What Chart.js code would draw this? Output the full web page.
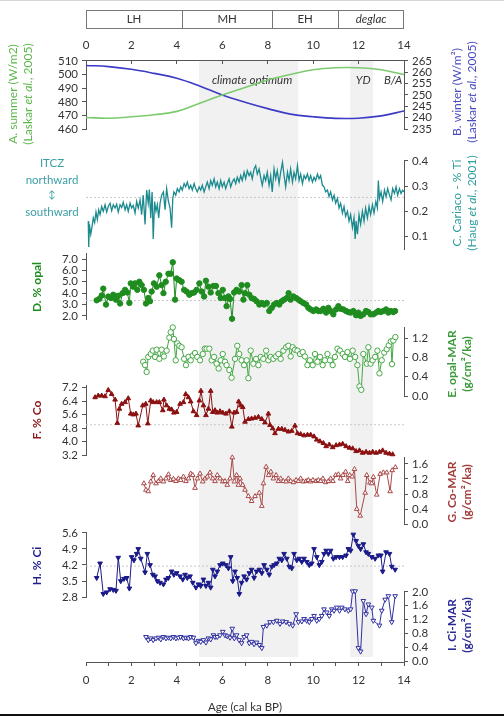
<!DOCTYPE html>
<html>
<head>
<meta charset="utf-8">
<script src="https://cdn.jsdelivr.net/npm/chart.js@4.4.1/dist/chart.umd.min.js"></script>
<style>
  html, body { margin: 0; padding: 0; background: #fff; }
  #stage { position: relative; width: 504px; height: 716px; overflow: hidden; background: #fff; }
  #stage canvas { position: absolute; left: 0; }
  #stage .edge-top { position: absolute; left: 0; right: 0; top: 0; height: 1px; background: #d6d6d6; }
  #stage .edge-bottom { position: absolute; left: 0; right: 0; bottom: 0; height: 2px; background: #111; }
</style>
</head>
<body>
<div id="stage"><div class="edge-top"></div><div class="edge-bottom"></div></div>
<script>
// ---------------- data (age in cal ka BP) ----------------
const periodNames  = ['LH', 'MH', 'EH', 'deglac'];
const periodBounds = [0, 4.23, 8.2, 11.1, 14];
const shadedSpans  = [[4.98, 9.34], [11.63, 12.64]];

const ageTicksTop    = [0, 2, 4, 6, 8, 10, 12, 14];
const ageTicksBottom = [0, 1, 2, 3, 4, 5, 6, 7, 8, 9, 10, 11, 12, 13, 14];

// A. 20°N summer insolation (W/m2) and B. winter insolation
const summerInsol = [[0,468.5],[1,468],[2,469],[3,470.5],[4,473],[5,479],[6,485],[7,490.5],[8,496],[9,500],[10,503.5],[11,505],[12,505],[13,503.5],[14,500]];
const winterInsol = [[0,263],[1,262.5],[2,261.3],[3,259.5],[4,257.4],[5,254],[6,250],[7,246.8],[8,244],[9,241.6],[10,240.4],[11,239.7],[12,239.8],[13,240.8],[14,243]];
const summerTicks = [460, 470, 480, 490, 500, 510];
const winterTicks = [235, 240, 245, 250, 255, 260, 265];

// C. Cariaco Basin % Ti
const cariacoTi = [[0.10,0.161],[0.12,0.058],[0.15,0.148],[0.21,0.109],[0.26,0.135],[0.32,0.174],[0.38,0.155],[0.44,0.197],[0.50,0.167],[0.56,0.206],[0.62,0.187],[0.69,0.219],[0.76,0.200],[0.84,0.226],[0.91,0.197],[0.98,0.219],[1.06,0.232],[1.13,0.202],[1.20,0.226],[1.28,0.213],[1.35,0.228],[1.42,0.197],[1.50,0.226],[1.57,0.215],[1.64,0.236],[1.72,0.206],[1.79,0.226],[1.86,0.200],[1.94,0.232],[2.01,0.213],[2.08,0.223],[2.16,0.193],[2.23,0.239],[2.30,0.213],[2.38,0.245],[2.45,0.187],[2.52,0.264],[2.60,0.148],[2.67,0.284],[2.74,0.232],[2.79,0.286],[2.85,0.174],[2.91,0.277],[2.96,0.090],[3.02,0.239],[3.08,0.200],[3.14,0.226],[3.20,0.174],[3.26,0.232],[3.33,0.264],[3.41,0.277],[3.48,0.206],[3.55,0.290],[3.63,0.239],[3.70,0.213],[3.77,0.135],[3.82,0.251],[3.87,0.277],[3.95,0.264],[4.02,0.290],[4.10,0.277],[4.17,0.297],[4.24,0.284],[4.32,0.310],[4.39,0.297],[4.46,0.316],[4.54,0.290],[4.61,0.303],[4.68,0.284],[4.76,0.310],[4.83,0.290],[4.90,0.277],[4.98,0.297],[5.05,0.284],[5.12,0.303],[5.20,0.277],[5.27,0.297],[5.34,0.316],[5.42,0.290],[5.49,0.322],[5.56,0.303],[5.64,0.329],[5.71,0.297],[5.78,0.316],[5.86,0.290],[5.93,0.322],[6.00,0.297],[6.08,0.316],[6.15,0.290],[6.22,0.310],[6.30,0.329],[6.37,0.297],[6.44,0.316],[6.52,0.329],[6.59,0.310],[6.66,0.335],[6.74,0.316],[6.81,0.342],[6.88,0.322],[6.96,0.355],[7.03,0.329],[7.10,0.361],[7.18,0.342],[7.25,0.355],[7.32,0.329],[7.40,0.368],[7.47,0.381],[7.54,0.348],[7.62,0.368],[7.69,0.335],[7.76,0.303],[7.84,0.342],[7.91,0.322],[7.98,0.355],[8.06,0.303],[8.13,0.342],[8.20,0.277],[8.28,0.368],[8.35,0.329],[8.42,0.361],[8.50,0.310],[8.57,0.355],[8.65,0.394],[8.72,0.342],[8.79,0.297],[8.87,0.355],[8.94,0.322],[9.01,0.368],[9.09,0.316],[9.16,0.355],[9.23,0.329],[9.31,0.381],[9.38,0.322],[9.45,0.348],[9.53,0.310],[9.60,0.342],[9.67,0.329],[9.75,0.348],[9.82,0.322],[9.89,0.342],[9.97,0.316],[10.04,0.335],[10.11,0.322],[10.19,0.348],[10.26,0.329],[10.33,0.342],[10.41,0.303],[10.48,0.297],[10.55,0.277],[10.63,0.284],[10.70,0.258],[10.77,0.277],[10.85,0.245],[10.92,0.264],[10.99,0.232],[11.07,0.251],[11.14,0.213],[11.21,0.232],[11.29,0.193],[11.36,0.219],[11.43,0.180],[11.51,0.200],[11.58,0.161],[11.65,0.187],[11.73,0.135],[11.80,0.174],[11.85,0.090],[11.89,0.161],[11.95,0.109],[12.02,0.187],[12.09,0.148],[12.17,0.200],[12.24,0.161],[12.31,0.213],[12.39,0.174],[12.46,0.219],[12.53,0.187],[12.61,0.226],[12.68,0.193],[12.76,0.239],[12.83,0.213],[12.87,0.322],[12.92,0.251],[12.99,0.277],[13.06,0.239],[13.14,0.284],[13.21,0.258],[13.28,0.290],[13.36,0.264],[13.43,0.245],[13.50,0.290],[13.58,0.271],[13.65,0.297],[13.72,0.264],[13.80,0.290],[13.87,0.271],[13.94,0.284],[14.00,0.277]];
const tiTicks = [0.1, 0.2, 0.3, 0.4];
const tiMean = 0.255;

// D. % opal
const opalPct = [[0.47,3.37],[0.59,3.5],[0.69,3.8],[0.76,4.4],[0.88,3.0],[0.98,3.7],[1.10,3.57],[1.20,3.86],[1.32,3.43],[1.42,3.77],[1.50,3.09],[1.61,4.0],[1.72,4.29],[1.82,4.06],[1.91,3.14],[1.97,4.86],[2.08,4.57],[2.16,4.86],[2.26,4.29],[2.35,5.0],[2.45,4.71],[2.55,4.29],[2.64,3.09],[2.74,3.57],[2.82,3.29],[2.89,4.14],[2.99,4.86],[3.11,4.57],[3.23,5.57],[3.33,4.71],[3.41,4.0],[3.51,5.0],[3.63,5.71],[3.73,5.71],[3.82,6.71],[3.92,3.43],[3.99,5.29],[4.11,5.14],[4.21,5.0],[4.32,4.29],[4.43,4.14],[4.55,3.86],[4.65,4.0],[4.76,4.06],[4.87,4.29],[4.99,4.86],[5.09,4.14],[5.20,3.71],[5.28,5.09],[5.39,4.57],[5.49,4.06],[5.61,4.63],[5.72,4.63],[5.83,4.0],[5.93,3.57],[6.02,4.29],[6.12,3.57],[6.19,2.86],[6.27,3.71],[6.34,3.49],[6.43,1.75],[6.52,4.06],[6.63,4.29],[6.75,4.14],[6.85,4.71],[6.93,3.43],[7.00,4.0],[7.10,4.71],[7.19,3.86],[7.29,3.57],[7.40,3.49],[7.51,3.29],[7.63,3.0],[7.74,3.14],[7.84,3.0],[7.96,3.14],[8.07,2.43],[8.18,2.71],[8.28,3.0],[8.40,3.14],[8.51,3.0],[8.62,3.29],[8.72,3.43],[8.84,3.57],[8.92,4.0],[9.01,3.43],[9.13,3.71],[9.25,3.57],[9.35,3.43],[9.45,3.29],[9.57,3.14],[9.69,3.0],[9.79,2.71],[9.89,2.57],[10.01,2.43],[10.13,2.57],[10.23,2.43],[10.33,2.43],[10.45,2.63],[10.57,2.29],[10.67,2.71],[10.77,2.43],[10.89,2.14],[11.01,2.57],[11.11,2.86],[11.21,2.63],[11.33,2.57],[11.45,2.43],[11.55,2.34],[11.65,2.29],[11.77,2.43],[11.89,2.06],[11.99,2.29],[12.09,2.0],[12.21,2.14],[12.33,2.43],[12.43,2.34],[12.53,2.14],[12.65,2.14],[12.77,2.29],[12.87,2.43],[12.98,2.34],[13.09,2.43],[13.21,2.57],[13.31,2.29],[13.42,2.43],[13.53,2.34],[13.61,2.43]];
const opalTicks = [2, 3, 4, 5, 6, 7];
const opalMean = 3.35;

// E. opal mass accumulation rate (g/cm2/ka)
const opalMar = [[2.52,0.71],[2.60,0.64],[2.67,0.50],[2.74,0.81],[2.85,0.87],[2.94,0.94],[3.04,0.81],[3.11,0.96],[3.23,0.77],[3.33,0.96],[3.43,0.82],[3.55,0.94],[3.67,1.21],[3.73,1.32],[3.82,1.42],[3.87,1.18],[3.95,0.74],[4.02,1.09],[4.11,1.04],[4.21,1.01],[4.32,0.77],[4.40,0.64],[4.51,0.81],[4.61,0.74],[4.70,0.84],[4.80,0.89],[4.90,0.81],[5.02,0.74],[5.14,0.87],[5.23,0.98],[5.31,0.98],[5.43,0.98],[5.53,0.74],[5.64,0.81],[5.75,0.67],[5.84,0.57],[5.93,0.74],[6.02,0.87],[6.12,0.71],[6.19,0.64],[6.31,0.54],[6.41,0.38],[6.56,0.77],[6.66,1.04],[6.75,0.87],[6.85,0.74],[6.96,0.64],[7.07,0.74],[7.15,0.37],[7.25,0.94],[7.37,0.67],[7.49,0.77],[7.59,0.64],[7.69,0.81],[7.81,0.77],[7.93,0.94],[8.03,0.74],[8.13,0.81],[8.25,0.77],[8.37,0.82],[8.47,0.87],[8.57,0.77],[8.69,0.94],[8.81,1.01],[8.91,1.04],[9.01,0.82],[9.10,1.01],[9.20,0.96],[9.31,0.94],[9.42,0.87],[9.54,0.91],[9.64,0.82],[9.75,0.64],[9.86,0.74],[9.98,0.64],[10.08,0.87],[10.19,0.71],[10.30,0.81],[10.42,0.64],[10.52,0.74],[10.63,0.87],[10.74,0.74],[10.86,0.64],[10.96,0.81],[11.07,0.98],[11.18,0.94],[11.30,0.87],[11.40,0.81],[11.51,0.91],[11.62,0.77],[11.74,0.94],[11.85,0.81],[11.95,0.64],[12.04,0.20],[12.12,0.13],[12.21,0.87],[12.36,0.67],[12.43,1.01],[12.53,0.67],[12.62,0.74],[12.73,0.81],[12.83,0.94],[12.92,0.47],[13.02,0.74],[13.13,0.90],[13.24,0.97],[13.33,1.05],[13.42,1.13],[13.47,0.66],[13.53,1.15],[13.62,1.22]];
const opalMarTicks = [0, 0.4, 0.8, 1.2];

// F. % Co
const coPct = [[0.40,6.62],[0.54,6.72],[0.69,6.72],[0.84,6.68],[0.98,7.05],[1.13,6.81],[1.28,6.48],[1.38,5.10],[1.47,5.94],[1.57,6.23],[1.72,6.33],[1.86,6.56],[1.97,5.65],[2.08,5.60],[2.20,5.65],[2.30,4.95],[2.50,6.14],[2.63,6.23],[2.72,5.07],[2.85,6.43],[2.96,6.33],[3.11,6.33],[3.23,6.33],[3.38,5.85],[3.43,6.48],[3.55,6.14],[3.67,5.94],[3.77,5.90],[3.87,5.71],[3.99,5.75],[4.14,6.23],[4.29,6.33],[4.39,6.81],[4.51,6.62],[4.61,6.37],[4.73,5.79],[4.87,5.56],[4.99,6.43],[5.06,7.00],[5.17,6.14],[5.28,5.56],[5.39,5.94],[5.49,7.00],[5.58,5.75],[5.68,5.85],[5.78,5.71],[5.90,5.79],[6.02,5.71],[6.16,5.65],[6.31,5.79],[6.42,4.88],[6.52,5.71],[6.63,5.75],[6.72,6.37],[6.81,6.14],[6.90,6.04],[7.00,5.17],[7.15,5.33],[7.29,5.36],[7.44,5.40],[7.59,5.46],[7.74,5.33],[7.88,5.13],[8.03,5.65],[8.10,4.98],[8.22,4.78],[8.32,4.49],[8.47,4.75],[8.62,4.75],[8.76,4.69],[8.91,4.59],[9.06,4.63],[9.20,4.94],[9.31,4.49],[9.45,4.44],[9.60,4.36],[9.75,4.40],[9.89,4.40],[10.04,4.30],[10.16,4.11],[10.30,4.01],[10.45,3.91],[10.57,3.72],[10.71,3.82],[10.86,3.66],[11.01,3.78],[11.16,3.82],[11.30,3.86],[11.45,3.72],[11.60,3.63],[11.74,3.59],[11.89,3.43],[12.04,3.47],[12.18,3.33],[12.33,3.39],[12.48,3.33],[12.62,3.39],[12.77,3.33],[12.92,3.39],[13.06,3.47],[13.21,3.33],[13.36,3.28],[13.50,3.24]];
const coTicks = [3.2, 4.0, 4.8, 5.6, 6.4, 7.2];
const coMean = 5.0;

// G. Co mass accumulation rate
const coMar = [[2.55,1.08],[2.64,0.91],[2.74,0.87],[2.85,1.13],[2.96,1.30],[3.08,1.08],[3.19,1.14],[3.29,1.21],[3.41,1.13],[3.52,1.21],[3.63,1.32],[3.73,1.17],[3.85,1.20],[3.96,1.14],[4.07,1.21],[4.17,1.17],[4.29,1.26],[4.40,1.14],[4.51,1.21],[4.61,1.34],[4.70,1.30],[4.80,0.96],[4.90,1.21],[5.02,1.34],[5.14,1.13],[5.24,1.21],[5.34,1.26],[5.46,1.37],[5.58,1.21],[5.68,1.14],[5.78,1.30],[5.90,1.21],[6.02,1.13],[6.12,1.14],[6.22,1.04],[6.34,1.21],[6.44,1.77],[6.53,1.13],[6.63,1.30],[6.71,1.04],[6.78,1.21],[6.90,1.04],[7.00,0.91],[7.15,0.74],[7.29,0.61],[7.44,0.74],[7.63,0.83],[7.74,0.48],[7.81,1.08],[7.93,1.52],[8.04,1.30],[8.14,1.39],[8.25,1.21],[8.37,1.30],[8.47,1.14],[8.57,1.21],[8.69,1.14],[8.81,1.13],[8.91,1.21],[9.01,1.14],[9.13,1.11],[9.25,1.17],[9.35,1.14],[9.45,1.21],[9.57,1.13],[9.69,1.14],[9.79,1.17],[9.89,1.13],[9.99,1.17],[10.13,1.14],[10.23,1.17],[10.33,1.14],[10.43,1.21],[10.55,1.11],[10.67,1.14],[10.77,1.21],[10.87,1.14],[10.99,1.30],[11.11,1.32],[11.21,1.21],[11.31,1.30],[11.43,1.39],[11.52,1.14],[11.61,1.30],[11.72,1.26],[11.82,1.46],[11.92,0.40],[12.07,0.22],[12.29,0.83],[12.36,1.30],[12.50,1.10],[12.58,1.08],[12.65,1.25],[12.80,0.78],[12.95,1.33],[13.09,1.37],[13.24,1.37],[13.39,0.87],[13.48,1.43],[13.62,1.51]];
const coMarTicks = [0, 0.4, 0.8, 1.2, 1.6];

// H. % Ci
const ciPct = [[0.47,3.64],[0.62,4.27],[0.76,2.94],[0.91,3.01],[1.06,3.15],[1.20,3.12],[1.32,3.08],[1.42,4.52],[1.53,3.50],[1.67,3.60],[1.79,3.64],[1.91,3.18],[2.01,4.55],[2.11,4.41],[2.23,4.69],[2.30,4.90],[2.41,4.48],[2.60,3.88],[2.70,4.69],[2.82,4.20],[2.94,3.78],[3.04,3.71],[3.14,3.50],[3.26,3.43],[3.41,3.36],[3.52,3.57],[3.63,3.64],[3.77,3.92],[3.87,3.78],[3.99,3.85],[4.14,3.71],[4.26,3.57],[4.36,3.78],[4.46,3.64],[4.58,3.71],[4.70,3.43],[4.84,3.22],[4.95,3.36],[5.05,3.29],[5.17,3.57],[5.28,3.29],[5.39,3.43],[5.49,3.22],[5.58,4.00],[5.68,3.71],[5.78,3.92],[5.90,4.20],[6.02,4.27],[6.16,4.20],[6.27,4.06],[6.37,4.55],[6.46,3.50],[6.56,3.92],[6.66,3.64],[6.75,2.94],[6.85,3.43],[6.96,3.71],[7.07,3.57],[7.19,3.85],[7.29,4.00],[7.40,3.64],[7.51,3.92],[7.63,4.00],[7.74,3.85],[7.84,4.20],[7.96,4.00],[8.07,3.78],[8.18,4.13],[8.28,4.20],[8.40,4.27],[8.51,4.48],[8.62,4.41],[8.72,4.69],[8.84,4.48],[8.95,4.13],[9.06,4.06],[9.16,4.69],[9.28,4.41],[9.39,4.48],[9.50,4.34],[9.60,4.48],[9.72,4.34],[9.83,4.20],[9.94,4.27],[10.04,4.90],[10.16,4.55],[10.27,4.20],[10.38,4.34],[10.48,4.69],[10.57,4.83],[10.67,4.69],[10.77,4.83],[10.89,4.48],[11.01,4.55],[11.16,4.55],[11.30,4.55],[11.45,4.62],[11.55,4.90],[11.65,4.83],[11.77,5.53],[11.89,5.25],[11.99,5.04],[12.09,4.90],[12.21,5.11],[12.33,4.76],[12.43,4.69],[12.58,4.55],[12.73,4.48],[12.87,4.62],[12.98,4.62],[13.06,3.92],[13.21,4.76],[13.36,4.69],[13.46,4.13],[13.61,4.00]];
const ciTicks = [2.8, 3.5, 4.2, 4.9, 5.6];
const ciMean = 4.15;

// I. Ci mass accumulation rate
const ciMar = [[2.64,0.70],[2.74,0.61],[2.85,0.66],[2.96,0.61],[3.08,0.66],[3.19,0.68],[3.29,0.63],[3.41,0.70],[3.52,0.66],[3.63,0.68],[3.73,0.66],[3.85,0.70],[3.96,0.66],[4.07,0.68],[4.17,0.70],[4.29,0.66],[4.40,0.68],[4.51,0.66],[4.61,0.70],[4.73,0.68],[4.84,0.52],[4.95,0.59],[5.05,0.56],[5.17,0.61],[5.28,0.54],[5.39,0.66],[5.49,0.63],[5.61,0.75],[5.68,0.70],[5.78,0.70],[5.90,0.75],[6.02,0.85],[6.12,0.75],[6.22,0.72],[6.34,0.68],[6.44,0.94],[6.53,0.66],[6.63,0.75],[6.74,0.61],[6.85,0.52],[6.96,0.70],[7.07,0.75],[7.19,0.52],[7.29,0.56],[7.40,0.49],[7.51,0.54],[7.63,0.47],[7.74,0.38],[7.81,0.99],[7.96,1.03],[8.10,1.13],[8.25,1.13],[8.40,1.17],[8.54,1.08],[8.66,1.15],[8.81,1.13],[8.95,1.08],[9.10,1.03],[9.25,1.36],[9.35,1.13],[9.50,1.15],[9.60,1.22],[9.72,1.17],[9.83,1.13],[9.94,1.22],[10.04,1.31],[10.16,1.17],[10.27,1.22],[10.38,1.31],[10.48,1.50],[10.60,1.41],[10.71,1.31],[10.82,1.50],[10.92,1.46],[11.04,1.55],[11.16,1.46],[11.26,1.55],[11.40,1.50],[11.55,1.46],[11.65,1.50],[11.74,2.02],[11.85,2.02],[11.99,0.38],[12.09,0.28],[12.21,1.74],[12.33,1.36],[12.43,1.64],[12.58,1.55],[12.65,1.17],[12.92,1.03],[13.02,1.46],[13.17,1.78],[13.31,1.88],[13.46,1.13],[13.61,1.88]];
const ciMarTicks = [0, 0.4, 0.8, 1.2, 1.6, 2.0];

// ---------------- layout & style ----------------
const W = 504, H = 716;
const PLOT_L = 86, PLOT_R = 404;       // horizontal extent of every plot area
const AXIS_W = 40;                      // fixed width given to every y axis
const PAD = 10;
const FONT = 'Lato, "Open Sans", sans-serif';
const TICK_FONT = { family: FONT, size: 11.5 };
const TICK_COLOR = '#333';
const AXIS_COLOR = '#555';
const MARK_R = 2.7;

const stage = document.getElementById('stage');

function fixedTicks(list) {
  return s => { s.ticks = list.map(v => ({ value: v })); };
}

function yAxis(position, min, max, list, decimals) {
  return {
    type: 'linear', position, min, max,
    afterBuildTicks: fixedTicks(list),
    afterFit: s => { s.width = AXIS_W; },
    border: { display: true, color: AXIS_COLOR, width: 1 },
    grid: { display: true, drawOnChartArea: false, drawTicks: true, tickLength: 4, color: AXIS_COLOR },
    ticks: { font: TICK_FONT, color: TICK_COLOR, padding: 4, autoSkip: false,
             callback: v => Number(v).toFixed(decimals) }
  };
}

function markerSeries(data, axis, color, style, filled, rotation) {
  return {
    data, yAxisID: axis, borderColor: color, borderWidth: 1,
    pointStyle: style, pointRotation: rotation || 0, pointRadius: MARK_R,
    pointBorderWidth: 1, pointBorderColor: color,
    pointBackgroundColor: filled ? color : '#fff',
    tension: 0, clip: false
  };
}

function meanLine(value, axis) {
  return {
    data: [[0, value], [14, value]], yAxisID: axis,
    borderColor: '#c8c8c8', borderWidth: 1, borderDash: [2, 2],
    pointRadius: 0, clip: false
  };
}

function panel(top, bottom, scales, datasets) {
  const cv = document.createElement('canvas');
  cv.width = W;
  cv.height = bottom - top + 2 * PAD;
  cv.style.top = (top - PAD) + 'px';
  stage.appendChild(cv);
  const pos = Object.values(scales).map(s => s.position);
  new Chart(cv, {
    type: 'line',
    data: { datasets },
    options: {
      responsive: false, animation: false, events: [],
      layout: { autoPadding: false, padding: {
        top: PAD, bottom: PAD,
        left: pos.includes('left') ? PLOT_L - AXIS_W : PLOT_L,
        right: pos.includes('right') ? (W - PLOT_R) - AXIS_W : W - PLOT_R } },
      plugins: { legend: { display: false }, tooltip: { enabled: false } },
      scales: Object.assign({ x: { type: 'linear', min: 0, max: 14, display: false } }, scales)
    }
  });
}

// ---------------- frame: age axes, shading, period bar, titles ----------------
function richText(ctx, parts, x, y, size, color, weight) {
  const fontOf = p => `${p.i ? 'italic ' : ''}${weight || 'normal'} ${size}px ${FONT}`;
  let total = 0;
  parts.forEach(p => { ctx.font = fontOf(p); total += ctx.measureText(p.t).width; });
  let cx = x - total / 2;
  ctx.fillStyle = color;
  ctx.textAlign = 'left';
  ctx.textBaseline = 'middle';
  parts.forEach(p => { ctx.font = fontOf(p); ctx.fillText(p.t, cx, y); cx += ctx.measureText(p.t).width; });
}

function verticalTitle(ctx, lines, x, dx, y, color, size, weight) {
  lines.forEach((parts, i) => {
    ctx.save();
    ctx.translate(x + i * dx, y);
    ctx.rotate(-Math.PI / 2);
    richText(ctx, parts, 0, 0, size, color, weight);
    ctx.restore();
  });
}

const axisTitles = [
  { lines: [[{ t: 'A. summer (W/m2)' }], [{ t: '(Laskar ' }, { t: 'et al.', i: true }, { t: ', 2005)' }]], x: 13, y: 94, color: '#5cb84c' },
  { lines: [[{ t: 'B. winter (W/m²)' }], [{ t: '(Laskar ' }, { t: 'et al.', i: true }, { t: ', 2005)' }]], x: 457, y: 92, color: '#4a4ac0' },
  { lines: [[{ t: 'C. Cariaco - % Ti' }], [{ t: '(Haug ' }, { t: 'et al.', i: true }, { t: ', 2001)' }]], x: 457, y: 203, color: '#2e9e9e' },
  { lines: [[{ t: 'D. % opal' }]], x: 37, y: 287, color: '#1e8c1e', bold: true },
  { lines: [[{ t: 'E. opal-MAR' }], [{ t: '(g/cm²/ka)' }]], x: 452, y: 364, color: '#3a9a3a', bold: true },
  { lines: [[{ t: 'F. % Co' }]], x: 37, y: 420, color: '#8b1a1a', bold: true },
  { lines: [[{ t: 'G. Co-MAR' }], [{ t: '(g/cm²/ka)' }]], x: 452, y: 492, color: '#a33a3a', bold: true },
  { lines: [[{ t: 'H. % Ci' }]], x: 37, y: 566, color: '#1f1f8f', bold: true },
  { lines: [[{ t: 'I. Ci-MAR' }], [{ t: '(g/cm²/ka)' }]], x: 452, y: 625, color: '#2a2a95', bold: true }
];
const itczLines = ['ITCZ', 'northward', '↕', 'southward'];
const eventLabels = [
  { t: 'climate optimum', age: 7.31 },
  { t: 'YD', age: 12.2 },
  { t: 'B/A', age: 13.52 }
];

const framePlugin = {
  id: 'frameDecor',
  beforeDraw(chart) {
    const { ctx, chartArea, scales } = chart;
    const x = scales.x;
    ctx.save();
    ctx.fillStyle = '#f1f1f1';
    shadedSpans.forEach(([a, b]) => {
      const x0 = x.getPixelForValue(a), x1 = x.getPixelForValue(b);
      ctx.fillRect(x0, chartArea.top + 1, x1 - x0, chartArea.bottom - chartArea.top - 6);
    });
    ctx.restore();
  },
  afterDraw(chart) {
    const { ctx, scales } = chart;
    const x = scales.x;
    ctx.save();
    // period bar
    const barTop = 10.5, barBot = 28.5;
    ctx.strokeStyle = '#777';
    ctx.lineWidth = 1;
    ctx.strokeRect(x.getPixelForValue(0) + 0.5, barTop, x.getPixelForValue(14) - x.getPixelForValue(0) - 1, barBot - barTop);
    periodBounds.slice(1, -1).forEach(b => {
      const px = Math.round(x.getPixelForValue(b)) + 0.5;
      ctx.beginPath(); ctx.moveTo(px, barTop); ctx.lineTo(px, barBot); ctx.stroke();
    });
    periodNames.forEach((n, i) => {
      const cx = (x.getPixelForValue(periodBounds[i]) + x.getPixelForValue(periodBounds[i + 1])) / 2;
      richText(ctx, [{ t: n, i: n === 'deglac' }], cx, 19.5, 11.5, '#333');
    });
    // event labels
    eventLabels.forEach(l => richText(ctx, [{ t: l.t, i: true }], x.getPixelForValue(l.age), 80, 11.5, '#333'));
    // ITCZ note
    itczLines.forEach((t, i) => richText(ctx, [{ t }], 52, [163, 180, 195, 212][i], i === 2 ? 10 : 11.5, '#3a9fa5'));
    // axis titles
    axisTitles.forEach(a => verticalTitle(ctx, a.lines, a.x, 15, a.y, a.color, 12, a.bold ? 'bold' : 'normal'));
    ctx.restore();
  }
};

const frameCv = document.createElement('canvas');
frameCv.width = W; frameCv.height = H; frameCv.style.top = '0px';
stage.appendChild(frameCv);
const TOP_H = 22, BOT_H = 52;
new Chart(frameCv, {
  type: 'line',
  data: { datasets: [] },
  options: {
    responsive: false, animation: false, events: [],
    layout: { autoPadding: false, padding: { left: PLOT_L, right: W - PLOT_R, top: 60 - TOP_H, bottom: H - 662 - BOT_H } },
    plugins: { legend: { display: false }, tooltip: { enabled: false } },
    scales: {
      x: {
        type: 'linear', position: 'bottom', min: 0, max: 14,
        afterBuildTicks: fixedTicks(ageTicksBottom),
        afterFit: s => { s.height = BOT_H; },
        border: { color: AXIS_COLOR },
        grid: { drawOnChartArea: false, tickLength: 4, color: AXIS_COLOR },
        ticks: { font: TICK_FONT, color: TICK_COLOR, padding: 7, autoSkip: false, maxRotation: 0,
                 callback: v => (v % 2 === 0 ? String(v) : '') },
        title: { display: true, text: 'Age (cal ka BP)', color: '#333', font: { family: FONT, size: 11.5 }, padding: { top: 0, bottom: 0 } }
      },
      xTop: {
        type: 'linear', position: 'top', min: 0, max: 14,
        afterBuildTicks: fixedTicks(ageTicksTop),
        afterFit: s => { s.height = TOP_H; },
        border: { color: AXIS_COLOR },
        grid: { drawOnChartArea: false, tickLength: -4, color: AXIS_COLOR },
        ticks: { font: TICK_FONT, color: TICK_COLOR, padding: 12, autoSkip: false, maxRotation: 0 }
      },
      y: { type: 'linear', display: false, min: 0, max: 1 }
    }
  },
  plugins: [framePlugin]
});

// ---------------- panels ----------------
// A / B insolation
panel(60, 130, {
  yA: yAxis('left', 460, 510, summerTicks, 0),
  yB: yAxis('right', 235, 265, winterTicks, 0)
}, [
  { data: summerInsol, yAxisID: 'yA', borderColor: '#7ccb6e', borderWidth: 1.6, pointRadius: 0, tension: 0.4, clip: false },
  { data: winterInsol, yAxisID: 'yB', borderColor: '#3b3bc6', borderWidth: 1.6, pointRadius: 0, tension: 0.4, clip: false }
]);

// C Cariaco Ti
panel(160, 250, { yC: yAxis('right', 0.05, 0.4, tiTicks, 1) }, [
  { data: cariacoTi, yAxisID: 'yC', borderColor: '#1b8a8e', borderWidth: 1.3, pointRadius: 0, tension: 0, clip: false },
  meanLine(tiMean, 'yC')
]);

// D % opal
panel(253, 320, { yD: yAxis('left', 1.72, 7.45, opalTicks, 1) }, [
  markerSeries(opalPct, 'yD', '#1e8c1e', 'circle', true),
  meanLine(opalMean, 'yD')
]);

// E opal-MAR
panel(327, 397, { yE: yAxis('right', 0, 1.41, opalMarTicks, 1) }, [
  markerSeries(opalMar, 'yE', '#45a845', 'circle', false)
]);

// F % Co
panel(385, 456, { yF: yAxis('left', 3.2, 7.3, coTicks, 1) }, [
  markerSeries(coPct, 'yF', '#8b1010', 'triangle', true),
  meanLine(coMean, 'yF')
]);

// G Co-MAR
panel(457, 525, { yG: yAxis('right', 0, 1.76, coMarTicks, 1) }, [
  markerSeries(coMar, 'yG', '#a84848', 'triangle', false)
]);

// H % Ci
panel(532, 598, { yH: yAxis('left', 2.8, 5.6, ciTicks, 1) }, [
  markerSeries(ciPct, 'yH', '#1a1a8a', 'triangle', true, 180),
  meanLine(ciMean, 'yH')
]);

// I Ci-MAR
panel(591, 662, { yI: yAxis('right', 0, 2.0, ciMarTicks, 1) }, [
  markerSeries(ciMar, 'yI', '#3030a0', 'triangle', false, 180)
]);
</script>
</body>
</html>
